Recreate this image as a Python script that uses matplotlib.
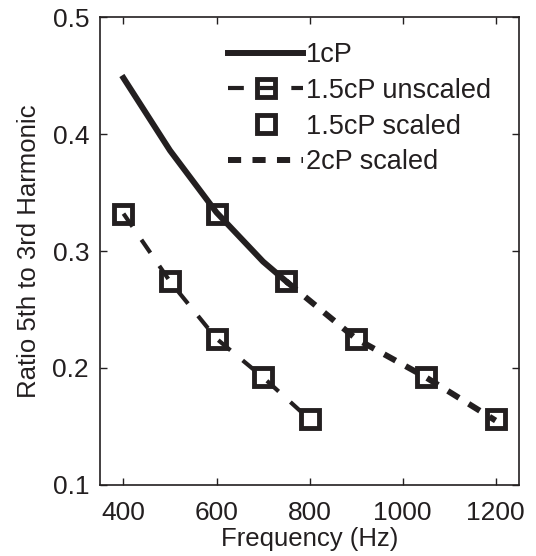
import numpy as np
import matplotlib
matplotlib.use('Agg')
import matplotlib.pyplot as plt

plt.rcParams['font.family'] = ['Liberation Sans', 'DejaVu Sans']

# data
f_1cp = [400, 500, 600, 700, 750]
r_1cp = [0.448, 0.386, 0.333, 0.291, 0.274]

f_unscaled = [400, 500, 600, 700, 800]
r_15cp = [0.332, 0.274, 0.225, 0.192, 0.156]

f_scaled = [600, 750, 900, 1050, 1200]

f_2cp = [750, 900, 1050, 1200]
r_2cp = [0.274, 0.225, 0.192, 0.155]

xticks = [400, 600, 800, 1000, 1200]
yticks = [0.1, 0.2, 0.3, 0.4, 0.5]

ink = '#231f20'

fig = plt.figure(figsize=(5.36, 5.56), dpi=100)
ax = fig.add_axes([0.187, 0.128, 0.781, 0.841])

ax.plot(f_1cp, r_1cp, '-', color=ink, lw=4.3, label='1cP')
ax.plot(f_unscaled, r_15cp, '--', color=ink, lw=3, dashes=(3.8, 3.8),
        marker='s', ms=13.5, mew=3.5, mfc='none', mec=ink, label='1.5cP unscaled')
ax.plot(f_scaled, r_15cp, 's', ms=13.5, mew=3.5, mfc='none', mec=ink, label='1.5cP scaled')
ax.plot(f_2cp, r_2cp, '--', color=ink, lw=4.3, dashes=(2.2, 1.9), label='2cP scaled')

ax.set_xlim(350, 1250)
ax.set_ylim(0.1, 0.5)
ax.set_xticks(xticks)
ax.set_yticks(yticks)
ax.set_yticklabels(['0.1', '0.2', '0.3', '0.4', '0.5'])
ax.tick_params(direction='in', top=True, right=True, length=5, width=1, labelsize=19,
               colors=ink)
ax.tick_params(axis='x', pad=12)
ax.tick_params(axis='y', pad=8)
for s in ax.spines.values():
    s.set_linewidth(1.2)
    s.set_color(ink)

ax.set_xlabel('Frequency (Hz)', fontsize=18.5, labelpad=1, color=ink)
ax.set_ylabel('Ratio 5th to 3rd Harmonic', fontsize=18.5, labelpad=8, color=ink)

ax.legend(loc='upper left', bbox_to_anchor=(0.28, 0.97), frameon=False, fontsize=19.5,
          handlelength=2.75, handletextpad=0.12, labelspacing=0.36, numpoints=1,
          borderaxespad=0, labelcolor=ink)

fig.savefig('out.png', dpi=100)
